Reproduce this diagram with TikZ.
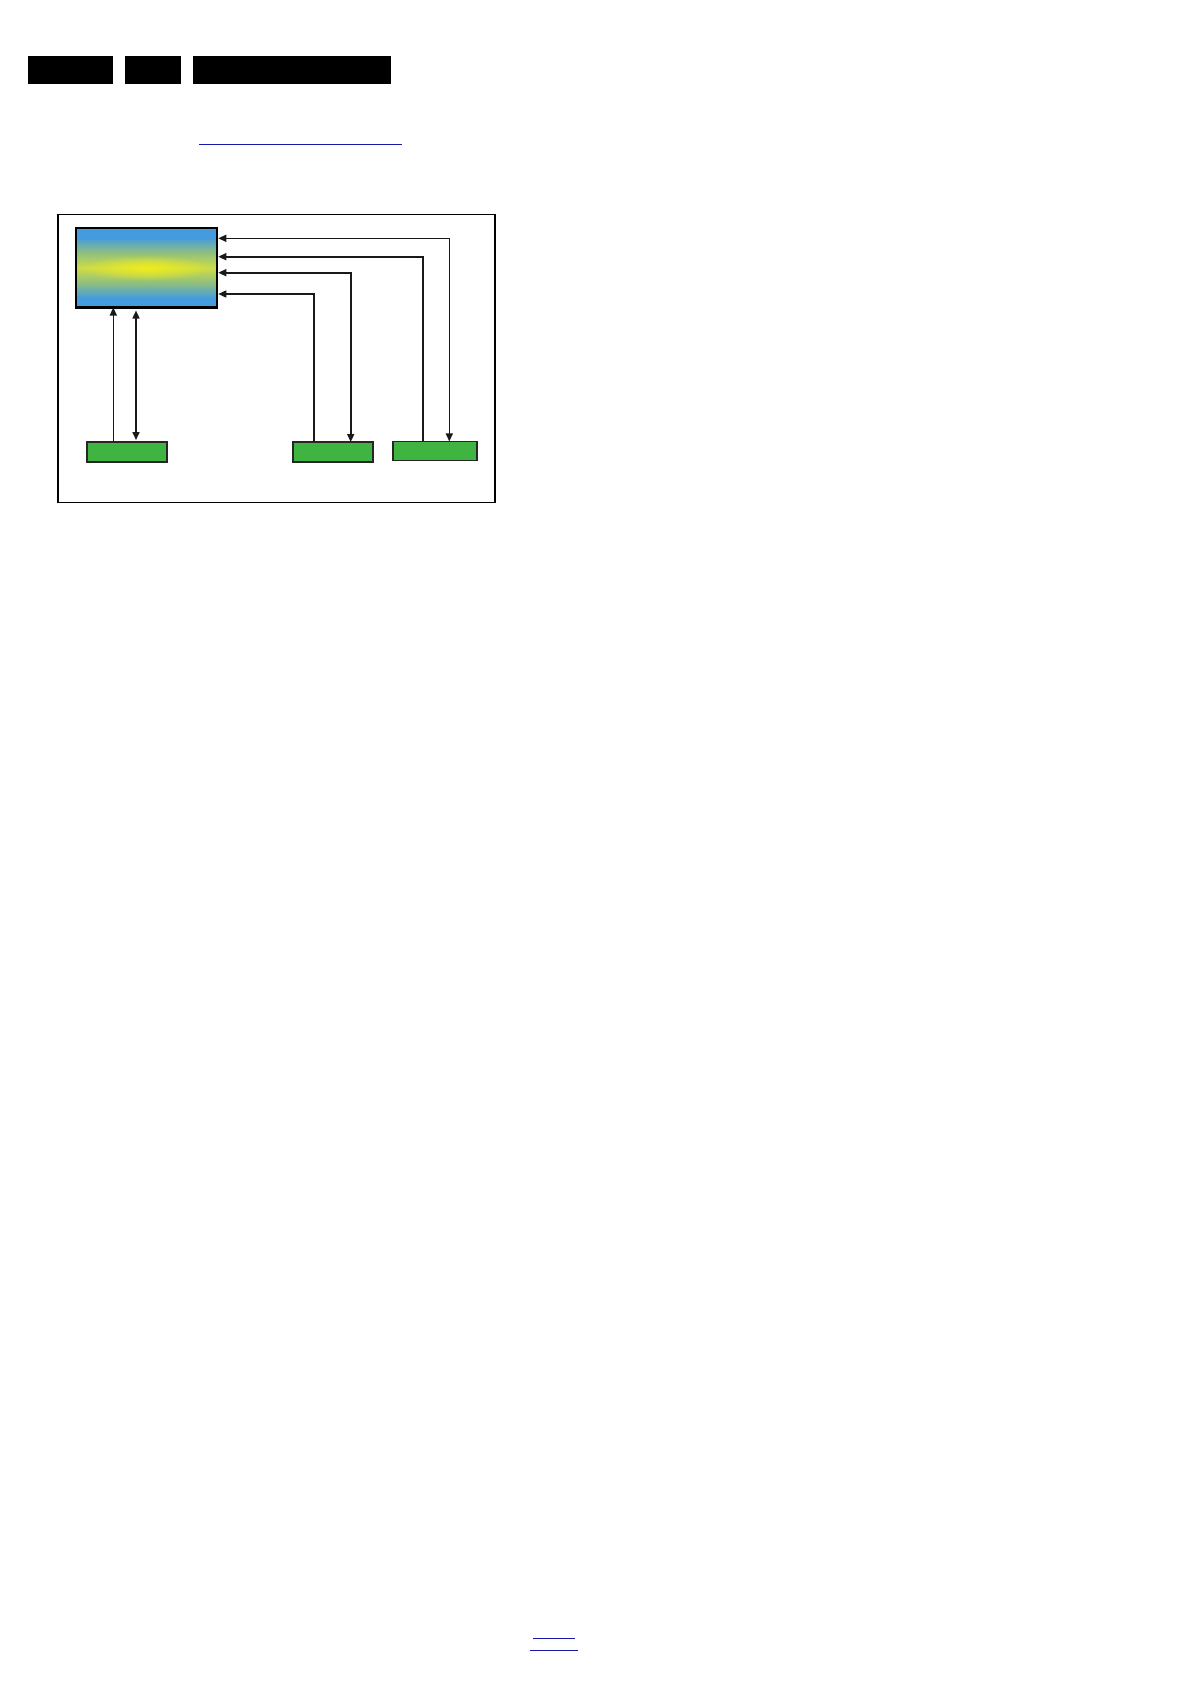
\documentclass[tikz,border=0pt]{standalone}
\usetikzlibrary{arrows.meta,fadings}
\definecolor{scrblue}{RGB}{68,155,222}
\definecolor{scrgreen}{RGB}{140,190,130}
\definecolor{scrmid}{RGB}{205,220,72}
\definecolor{scryellow}{RGB}{238,236,30}
\definecolor{boxgreen}{RGB}{64,180,64}
\definecolor{linkblue}{RGB}{26,26,170}
\definecolor{arrowgray}{RGB}{25,25,25}
\pgfdeclareverticalshading{screenshade}{100bp}{color(0bp)=(scrblue); color(25bp)=(scrblue); color(31bp)=(scrblue); color(40bp)=(scrgreen); color(50bp)=(scrmid); color(60bp)=(scrgreen); color(69bp)=(scrblue); color(75bp)=(scrblue); color(100bp)=(scrblue)}
\tikzfading[name=glowfade, inner color=transparent!0, outer color=transparent!100]
\begin{document}
\begin{tikzpicture}[x=1pt,y=-1pt,
  bar/.style={fill=black, draw=none, inner sep=0pt, outer sep=0pt},
  link/.style={draw=linkblue, line width=1.2pt},
  frame/.style={draw=black, line width=1.6pt, inner sep=0pt, outer sep=0pt},
  screen/.style={shading=screenshade, inner sep=0pt, outer sep=0pt},
  screenborder/.style={draw=black, line width=2.6pt},
  gbox/.style={draw=black!85, fill=boxgreen, line width=1.6pt, inner sep=0pt, outer sep=0pt},
  conn/.style={draw=arrowgray, line width=1.6pt},
  tip/.tip={Triangle[length=8pt,width=7pt]}
]
\useasboundingbox (0,0) rectangle (1191,1684);

% header bars
\node[bar, minimum width=85pt, minimum height=28pt] (bar1) at (70.5,70) {};
\node[bar, minimum width=56pt, minimum height=28pt] (bar2) at (153,70) {};
\node[bar, minimum width=198pt, minimum height=28pt] (bar3) at (292,70) {};

% top link line
\coordinate (la) at (199,144.3);
\coordinate (lb) at (402,144.3);
\draw[link] (la) -- (lb);

% frame
\node[frame, minimum width=437pt, minimum height=288pt] (frame) at (276.3,358.5) {};

% screen with glow
\node[screen, minimum width=141pt, minimum height=79.5pt] (screen) at (146.3,267.8) {};
\fill[scryellow, path fading=glowfade, fit fading=true] (screen.center) ellipse [x radius=66pt, y radius=13pt];
\draw[screenborder] (screen.north west) rectangle (screen.south east);

% green boxes
\node[gbox, minimum width=80pt, minimum height=20pt] (box1) at (127,452) {};
\node[gbox, minimum width=80pt, minimum height=20pt] (box2) at (333,452) {};
\node[gbox, minimum width=84pt, minimum height=19pt] (box3) at (435,450.9) {};

% connector guide coordinates
\coordinate (v1) at (449.3,238.3);
\coordinate (v2) at (423,256.7);
\coordinate (v3) at (350.7,272.7);
\coordinate (v4) at (314,294);
\coordinate (u1) at (113.3,380);
\coordinate (u2) at (136,380);

\draw[conn, tip-tip, shorten <=1.5pt] (screen.east |- v1) -| (box3.north -| v1);
\draw[conn, -tip, shorten >=1.5pt] (box3.north -| v2) |- (screen.east |- v2);
\draw[conn, tip-tip, shorten <=1.5pt] (screen.east |- v3) -| (box2.north -| v3);
\draw[conn, -tip, shorten >=1.5pt] (box2.north -| v4) |- (screen.east |- v4);
\draw[conn, -tip] (box1.north -| u1) -- (screen.south -| u1);
\draw[conn, tip-tip, shorten <=3pt, shorten >=2pt] (screen.south -| u2) -- (box1.north -| u2);

% bottom links
\coordinate (ba) at (533.3,1638.3);
\coordinate (bb) at (575,1638.3);
\coordinate (bc) at (530,1650.3);
\coordinate (bd) at (577.7,1650.3);
\draw[link] (ba) -- (bb);
\draw[link] (bc) -- (bd);
\end{tikzpicture}
\end{document}
